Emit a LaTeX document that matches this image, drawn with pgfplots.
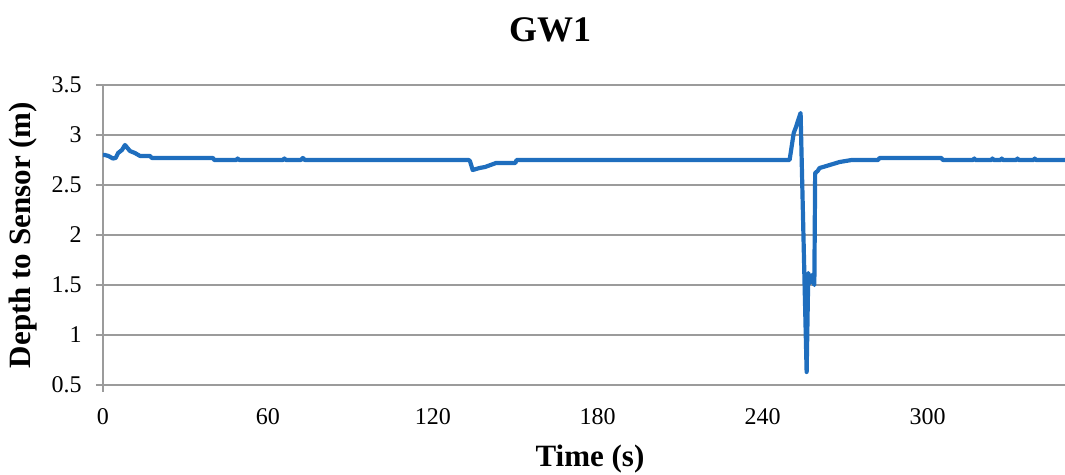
\documentclass[border=0pt]{standalone}
\usepackage{pgfplots}
\pgfplotsset{compat=1.18}
\usepackage{fontspec}
\setmainfont{Liberation Serif}
\definecolor{linec}{RGB}{31,110,190}
\definecolor{gridc}{RGB}{155,155,155}
\begin{document}
\begin{tikzpicture}
\begin{axis}[name=ax, scale only axis, width=481pt, height=150pt,
  xmin=0, xmax=350, ymin=0.5, ymax=3.5,
  axis lines*=left, axis line style={gridc, line width=1pt},
  ymajorgrids, grid style={gridc, line width=1pt},
  xtick={0,60,...,300}, ytick={0.5,1,...,3.5},
  tick align=outside, major tick length=3.5pt,
  tick style={gridc, line width=1pt},
  xtick style={draw=none},
  /pgf/number format/assume math mode=true,
  ticklabel style={font=\fontsize{12}{14}\selectfont, inner sep=0pt},
  yticklabel style={anchor=east, xshift=-7pt},
  xticklabel style={anchor=north, yshift=-8pt},
]
\addplot[linec, line width=2.1pt, line join=round] coordinates {
(0,2.80) (0.7,2.80) (2,2.79) (3.6,2.765) (4.6,2.77) (5.5,2.82) (6.9,2.85) (8,2.90)
(9.8,2.84) (11.6,2.82) (13.5,2.79) (17.1,2.79) (17.8,2.77) (30,2.77) (40,2.77)
(40.5,2.75) (48.5,2.75) (49,2.765) (49.5,2.75) (65.5,2.75) (66,2.765) (66.5,2.75)
(72,2.75) (72.7,2.77) (73.4,2.75) (100,2.75) (133,2.75) (133.5,2.74) (134.5,2.65)
(137,2.67) (139,2.68) (141,2.70) (143,2.72) (150,2.72) (150.5,2.75) (200,2.75)
(249.8,2.75) (251.3,3.02) (252,3.07) (253.8,3.22) (256.0,0.63) (256.6,1.62)
(257.3,1.52) (258,1.60) (258.8,1.50) (259.1,2.62) (260,2.64) (260.7,2.67)
(262,2.68) (264.4,2.70) (268,2.73) (272.4,2.75) (282,2.75) (282.5,2.77)
(305,2.77) (305.6,2.75) (316.6,2.75) (317,2.765) (317.4,2.75) (323.2,2.75)
(323.6,2.765) (324,2.75) (326.6,2.75) (327,2.765) (327.4,2.75) (332.3,2.75)
(332.7,2.765) (333.1,2.75) (338.6,2.75) (339,2.765) (339.4,2.75) (350,2.75)
};
\end{axis}
\draw[gridc, line width=1pt] (ax.south west) -- ++(0,-3.5pt);
\path (ax.south west) ++(223.5pt,171.5pt) node[anchor=base, inner sep=0pt, font=\bfseries\fontsize{18}{20}\selectfont]{GW1};
\path (ax.south west) ++(243.5pt,-41pt) node[anchor=base, inner sep=0pt, font=\bfseries\fontsize{15.5}{17}\selectfont]{Time (s)};
\path (ax.south west) ++(-36pt,75pt) node[rotate=90, anchor=base, inner sep=0pt, font=\bfseries\fontsize{15.5}{17}\selectfont]{Depth to Sensor (m)};
\pgfresetboundingbox
\path (ax.south west) ++(-51.5pt,-45pt) rectangle ++(532.5pt,237.5pt);
\end{tikzpicture}
\end{document}
